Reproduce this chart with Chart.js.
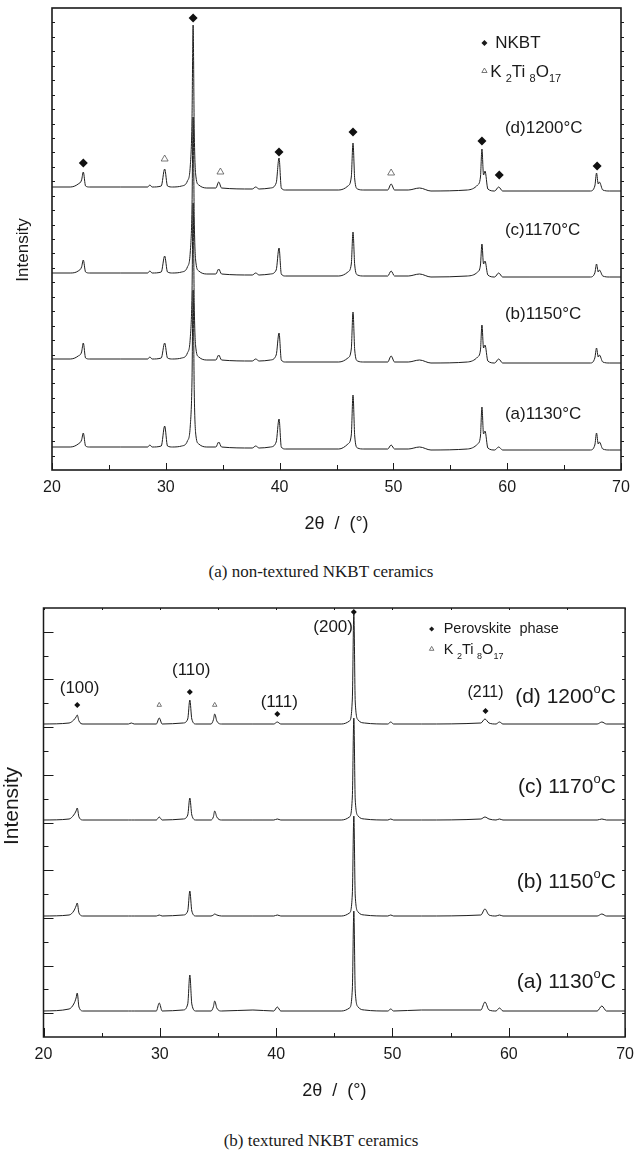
<!DOCTYPE html>
<html>
<head>
<meta charset="utf-8">
<script src="https://cdn.jsdelivr.net/npm/chart.js@4.4.1/dist/chart.umd.min.js"></script>
<style>
  body { margin: 0; background: #fff; width: 642px; height: 1150px; position: relative; overflow: hidden; }
  .panel { position: absolute; left: 0; width: 642px; }
  #panelA { top: 0; height: 545px; }
  #panelB { top: 588px; height: 532px; }
  .caption { position: absolute; left: 0; width: 642px; text-align: center; color: #1a1a1a;
             font: 17px "Liberation Serif", "Times New Roman", serif; }
</style>
</head>
<body>
<div class="panel" id="panelA"><canvas id="xrdA"></canvas></div>
<div class="caption" style="top:562px">(a) non-textured NKBT ceramics</div>
<div class="panel" id="panelB"><canvas id="xrdB"></canvas></div>
<div class="caption" style="top:1131px">(b) textured NKBT ceramics</div>

<script>
// ---- (a) non-textured ceramics: 2theta grid and intensity (a.u., above each trace baseline)
const twoThetaA = [20, 21.6, 22.3, 22.6, 22.75, 22.95, 23.3, 26, 28.4, 28.6, 28.8, 29.6, 29.9, 30.15, 30.6,
  31.4, 31.9, 32.15, 32.3, 32.4, 32.5, 32.65, 32.9, 33.6, 34.4, 34.65, 34.9, 37.6, 37.9, 38.2, 39.2, 39.7,
  39.95, 40.15, 40.5, 45.2, 46.0, 46.3, 46.45, 46.6, 46.85, 47.4, 49.5, 49.8, 50.1, 51.3, 52.3, 53.3, 56.5,
  57.4, 57.65, 57.78, 57.92, 58.05, 58.3, 58.9, 59.25, 59.6, 62, 67.3, 67.7, 67.85, 68.0, 68.1, 68.4, 69, 70];
const a1130 = [3,3,6,10,17,4,3,3,3,5,3,4,24,4,3,4,9,24,68,160,58,14,6,3,3,8,3,2,4,2,3,8,31,3,1,1,6,15,55,14,
  2,1,1,5,1,1,3,0,1,6,14,43,16,19,2,0,3,0,0,0,5,17,6,8,1,0,0];
const a1150 = [4,4,7,11,20,5,4,4,4,6,4,5,20,5,4,5,10,25,68,160,58,14,6,3,3,8,3,2,4,2,3,8,30,3,1,1,5,14,51,13,
  2,1,1,7,1,1,3,0,1,6,13,38,15,18,2,0,4,0,0,0,5,15,6,8,1,0,0];
const a1170 = [4,4,6,10,17,5,4,4,4,6,4,5,21,5,4,5,10,25,68,160,58,14,6,3,3,8,3,2,4,2,3,7,29,3,1,1,5,13,45,12,
  2,1,1,6,1,1,3,0,1,5,12,33,13,16,2,0,4,0,0,0,4,13,5,7,1,0,0];
const a1200 = [4,4,7,11,19,5,4,4,4,6,4,5,22,5,4,5,10,25,70,166,60,14,6,3,3,9,3,2,4,2,3,8,33,3,1,1,5,14,48,12,
  2,1,1,7,1,1,3,0,1,6,14,42,16,20,2,0,4,0,0,0,5,18,7,9,1,0,0];
const stackA = [20, 107, 193, 279];               // vertical shift of each pattern
const tempsA = ['(a)1130°C', '(b)1150°C', '(c)1170°C', '(d)1200°C'];
const nkbtMarksA = [[22.75, 307], [32.4, 452], [39.95, 318], [46.45, 338], [57.78, 329], [59.3, 295], [67.9, 304]];
const ktoMarksA = [[29.9, 311], [34.8, 298], [49.8, 297]];

// ---- (b) textured ceramics
const twoThetaB = [20, 22.2, 22.6, 22.8, 22.9, 23.05, 23.4, 27.3, 27.55, 27.8, 29.7, 29.95, 30.2, 32.0, 32.4,
  32.58, 32.75, 33.1, 34.4, 34.6, 34.72, 34.9, 35.3, 38.0, 39.8, 40.1, 40.4, 45.6, 46.3, 46.55, 46.68, 46.8,
  47.05, 47.6, 49.6, 49.85, 50.1, 52.5, 57.6, 57.95, 58.3, 58.9, 59.2, 59.5, 67.6, 68.0, 68.4, 70];
const b1130 = [0,2,7,13,18,4,0,0,0,0,0,8,0,1,7,36,7,0,0,4,10,3,0,1,0,4,0,0,3,22,100,20,4,1,0,2,0,1,1,9,1,0,3,0,0,5,0,0];
const b1150 = [0,1,5,10,13,3,0,0,0,0,0,1,0,1,5,25,5,0,0,1,2,1,0,0,0,1,0,0,3,22,100,20,4,1,0,1,0,0,1,7,1,0,1,0,0,2,0,0];
const b1170 = [0,1,5,9,12,3,0,0,0,0,0,3,0,1,5,22,5,0,0,3,9,3,0,0,0,1,0,0,3,23,102,20,4,1,0,1,0,0,1,3,1,0,1,0,0,1,0,0];
const b1200 = [0,1,4,7,9,3,0,0,1,0,0,6,0,1,5,24,5,0,0,4,10,3,0,0,0,2,0,0,3,25,111,22,4,1,0,2,0,0,1,5,1,0,2,0,0,2,0,0];
const stackB = [26, 121, 217, 313];
const tempsB = ['(a) 1130', '(b) 1150', '(c) 1170', '(d) 1200'];
const hklB = ['(100)', '(110)', '(111)', '(200)', '(211)'];
const perovMarksB = [[22.9, 332], [32.58, 345], [40.1, 323], [46.68, 425], [58.0, 326]];
const ktoMarksB = [[29.95, 332], [34.72, 332]];

const SANS = '"Liberation Sans", Arial, sans-serif';
const INK = '#1a1a1a';

// text with sub/superscripts: parts = [[text, 0 normal | 1 spaced sub | 2 sup | 3 tight sub], ...]
function richText(ctx, parts, x, y, size, align) {
  const small = Math.round(size * 0.62);
  const gap = k => (k === 1 ? size * 0.25 : 0);
  let w = 0;
  parts.forEach(([t, k]) => {
    ctx.font = (k ? small : size) + 'px ' + SANS;
    w += ctx.measureText(t).width + gap(k);
  });
  let cx = align === 'right' ? x - w : align === 'center' ? x - w / 2 : x;
  parts.forEach(([t, k]) => {
    ctx.font = (k ? small : size) + 'px ' + SANS;
    cx += gap(k);
    const dy = (k === 1 || k === 3) ? size * 0.42 : k === 2 ? -size * 0.36 : 0;
    ctx.fillText(t, cx, y + dy);
    cx += ctx.measureText(t).width;
  });
}

function symbol(ctx, kind, x, y, r) {
  ctx.beginPath();
  if (kind === 'diamond') {
    ctx.moveTo(x, y - r); ctx.lineTo(x + r, y); ctx.lineTo(x, y + r); ctx.lineTo(x - r, y);
    ctx.closePath(); ctx.fill();
  } else {
    ctx.moveTo(x, y - r); ctx.lineTo(x + r * 0.87, y + r * 0.5); ctx.lineTo(x - r * 0.87, y + r * 0.5);
    ctx.closePath(); ctx.lineWidth = 0.8; ctx.strokeStyle = '#555'; ctx.stroke();
  }
}

// box round the plot with inward ticks, placed through the scales
const frame = {
  id: 'frame',
  afterDatasetsDraw(chart, args, o) {
    const { ctx, chartArea: a, scales: { x, y } } = chart;
    ctx.save();
    ctx.strokeStyle = INK;
    ctx.lineWidth = o.lineWidth;
    ctx.strokeRect(a.left, a.top, a.right - a.left, a.bottom - a.top);
    ctx.lineWidth = 1;
    ctx.beginPath();
    for (let v = x.min; v <= x.max + 1e-6; v += 5) {
      const px = Math.round(x.getPixelForValue(v)) + 0.5;
      const len = v % 10 === 0 ? o.xMajor : o.xMinor;
      ctx.moveTo(px, a.bottom); ctx.lineTo(px, a.bottom - len);
      if (o.xTop) { ctx.moveTo(px, a.top); ctx.lineTo(px, a.top + o.xTop); }
    }
    for (let i = 1; i * o.yStep < y.max - 1e-6; i++) {
      const py = Math.round(y.getPixelForValue(i * o.yStep)) + 0.5;
      const len = o.yMajor && i % 2 === 1 ? o.yMajor : o.yMinor;
      ctx.moveTo(a.left, py); ctx.lineTo(a.left + len, py);
      ctx.moveTo(a.right, py); ctx.lineTo(a.right + o.yRight, py);
    }
    ctx.stroke();
    ctx.restore();
  }
};

// labels, legend and axis title drawn on top
const annotate = {
  id: 'annotate',
  afterDatasetsDraw(chart, args, o) {
    const { ctx, scales: { x, y } } = chart;
    ctx.save();
    ctx.fillStyle = INK;
    ctx.textBaseline = 'middle';
    o.texts.forEach(t => {
      richText(ctx, t.parts, x.getPixelForValue(t.x), y.getPixelForValue(t.y), t.size, t.align || 'left');
    });
    o.symbols.forEach(s => {
      ctx.fillStyle = INK;
      symbol(ctx, s.kind, x.getPixelForValue(s.x), y.getPixelForValue(s.y), s.r);
    });
    // rotated y title
    ctx.translate(o.yTitle.x, o.yTitle.y);
    ctx.rotate(-Math.PI / 2);
    ctx.fillStyle = INK;
    ctx.textAlign = 'center';
    ctx.font = o.yTitle.size + 'px ' + SANS;
    ctx.fillText('Intensity', 0, 0);
    ctx.restore();
  }
};

function buildPanel(canvasId, p) {
  const traces = p.series.map((vals, k) => ({
    data: p.theta.map((t, i) => ({ x: t, y: vals[i] + p.stack[k] })),
    borderColor: '#1e1e1e', borderWidth: 1, pointRadius: 0,
    cubicInterpolationMode: 'monotone', fill: false
  }));
  const marks = [
    { data: p.diamonds.map(([x, y]) => ({ x, y })), showLine: false, pointStyle: 'rectRot',
      pointRadius: p.diamondR, backgroundColor: '#111', borderColor: '#111', borderWidth: 0 },
    { data: p.triangles.map(([x, y]) => ({ x, y })), showLine: false, pointStyle: 'triangle',
      pointRadius: p.triR, backgroundColor: 'rgba(0,0,0,0)', borderColor: '#555', borderWidth: 0.8 }
  ];
  return new Chart(document.getElementById(canvasId), {
    type: 'line',
    data: { datasets: [...traces, ...marks] },
    options: {
      responsive: true,
      maintainAspectRatio: false,
      animation: false,
      layout: { padding: p.padding },
      plugins: { legend: { display: false }, tooltip: { enabled: false }, frame: p.frame, annotate: p.annotate },
      scales: {
        x: {
          type: 'linear', min: 20, max: 70,
          grid: { display: false, drawTicks: false }, border: { display: false },
          ticks: { stepSize: 10, padding: p.tickPad, color: INK, font: { size: 16, family: SANS } },
          title: { display: true, text: '2θ  /  (°)', color: INK, font: { size: 18, family: SANS },
                   padding: { top: 0, bottom: p.titlePad } },
          afterFit: s => { s.height = p.xHeight; }
        },
        y: {
          min: 0, max: p.yMax,
          grid: { display: false, drawTicks: false }, border: { display: false },
          ticks: { display: false },
          afterFit: s => { s.width = p.yWidth; }
        }
      }
    },
    plugins: [frame, annotate]
  });
}

const labelPartsA = tempsA.map(t => [[t, 0]]);
const labelPartsB = tempsB.map(t => [[t, 0], ['o', 2], ['C', 0]]);
const ktoFormula = [['K', 0], ['2', 1], ['Ti', 0], ['8', 1], ['O', 0], ['17', 3]];

buildPanel('xrdA', {
  theta: twoThetaA, series: [a1130, a1150, a1170, a1200], stack: stackA,
  diamonds: nkbtMarksA, triangles: ktoMarksA, diamondR: 4.5, triR: 4,
  yMax: 462, yWidth: 52, xHeight: 75, tickPad: 8, titlePad: 10,
  padding: { top: 8, right: 21, left: 0, bottom: 0 },
  frame: { lineWidth: 1.6, xMajor: 7, xMinor: 5, xTop: 0, yStep: 462 / 32, yMinor: 3, yRight: 3 },
  annotate: {
    texts: [
      { x: 59.8, y: 56, parts: labelPartsA[0], size: 17 },
      { x: 59.8, y: 156, parts: labelPartsA[1], size: 17 },
      { x: 59.8, y: 240, parts: labelPartsA[2], size: 17 },
      { x: 59.8, y: 342, parts: labelPartsA[3], size: 17 },
      { x: 58.95, y: 427, parts: [['NKBT', 0]], size: 17 },
      { x: 58.5, y: 398, parts: ktoFormula, size: 17 }
    ],
    symbols: [{ kind: 'diamond', x: 58.0, y: 427, r: 3 }, { kind: 'triangle', x: 58.0, y: 399, r: 3 }],
    yTitle: { x: 23, y: 250, size: 17 }
  }
});

buildPanel('xrdB', {
  theta: twoThetaB, series: [b1130, b1150, b1170, b1200], stack: stackB,
  diamonds: perovMarksB, triangles: ktoMarksB, diamondR: 3, triR: 2.6,
  yMax: 429, yWidth: 43.5, xHeight: 83, tickPad: 8, titlePad: 18,
  padding: { top: 20, right: 15, left: 0, bottom: 0 },
  frame: { lineWidth: 1.5, xMajor: 9, xMinor: 4, xTop: 2, yStep: 429 / 18, yMajor: 10, yMinor: 5, yRight: -3 },
  annotate: {
    texts: [
      { x: 69.2, y: 55, parts: labelPartsB[0], size: 21, align: 'right' },
      { x: 69.2, y: 155, parts: labelPartsB[1], size: 21, align: 'right' },
      { x: 69.2, y: 250, parts: labelPartsB[2], size: 21, align: 'right' },
      { x: 69.2, y: 340, parts: labelPartsB[3], size: 21, align: 'right' },
      { x: 23.1, y: 349, parts: [[hklB[0], 0]], size: 17, align: 'center' },
      { x: 32.7, y: 367, parts: [[hklB[1], 0]], size: 17, align: 'center' },
      { x: 40.27, y: 335, parts: [[hklB[2], 0]], size: 17, align: 'center' },
      { x: 44.9, y: 410, parts: [[hklB[3], 0]], size: 17, align: 'center' },
      { x: 58.0, y: 344, parts: [[hklB[4], 0]], size: 16, align: 'center' },
      { x: 54.4, y: 408, parts: [['Perovskite  phase', 0]], size: 14.5 },
      { x: 54.4, y: 387, parts: ktoFormula, size: 14.5 }
    ],
    symbols: [{ kind: 'diamond', x: 53.37, y: 408, r: 2.6 }, { kind: 'triangle', x: 53.37, y: 388, r: 2.6 }],
    yTitle: { x: 12, y: 218, size: 21 }
  }
});
</script>
</body>
</html>
